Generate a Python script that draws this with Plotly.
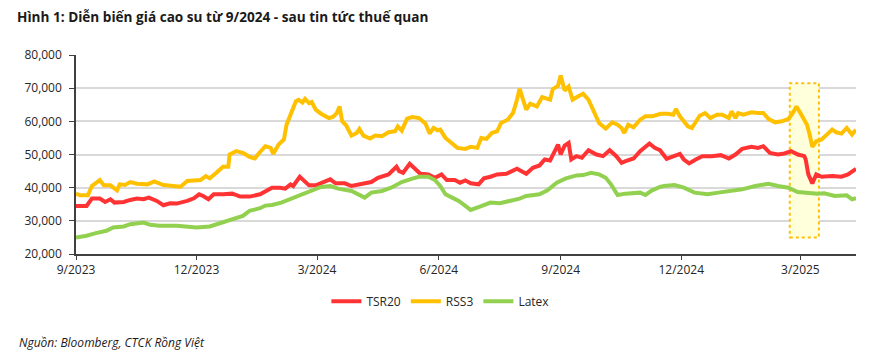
import plotly.graph_objects as go

title_text = "Hình 1: Diễn biến giá cao su từ 9/2024 - sau tin tức thuế quan"
source_text = "Nguồn: Bloomberg, CTCK Rồng Việt"

rss3_dates = ["2023-09-01","2023-09-04","2023-09-10","2023-09-13","2023-09-19","2023-09-22","2023-09-27","2023-10-02","2023-10-04","2023-10-08","2023-10-12","2023-10-17","2023-10-25","2023-10-30","2023-11-06","2023-11-14","2023-11-19","2023-11-24","2023-12-04","2023-12-08","2023-12-11","2023-12-16","2023-12-21","2023-12-25","2023-12-26","2023-12-31","2024-01-05","2024-01-10","2024-01-14","2024-01-17","2024-01-22","2024-01-26","2024-01-28","2024-02-01","2024-02-05","2024-02-07","2024-02-10","2024-02-14","2024-02-16","2024-02-19","2024-02-21","2024-02-24","2024-02-26","2024-02-29","2024-03-04","2024-03-10","2024-03-13","2024-03-16","2024-03-18","2024-03-20","2024-03-23","2024-03-27","2024-03-31","2024-04-02","2024-04-05","2024-04-10","2024-04-14","2024-04-19","2024-04-24","2024-04-29","2024-05-01","2024-05-04","2024-05-08","2024-05-12","2024-05-17","2024-05-22","2024-05-25","2024-05-28","2024-05-31","2024-06-02","2024-06-06","2024-06-10","2024-06-15","2024-06-21","2024-06-25","2024-06-30","2024-07-03","2024-07-07","2024-07-11","2024-07-15","2024-07-18","2024-07-23","2024-07-27","2024-07-30","2024-08-01","2024-08-04","2024-08-06","2024-08-09","2024-08-14","2024-08-18","2024-08-24","2024-08-26","2024-08-30","2024-09-01","2024-09-04","2024-09-07","2024-09-10","2024-09-14","2024-09-18","2024-09-22","2024-09-26","2024-09-30","2024-10-05","2024-10-10","2024-10-14","2024-10-17","2024-10-19","2024-10-22","2024-10-26","2024-10-31","2024-11-04","2024-11-09","2024-11-15","2024-11-16","2024-11-21","2024-11-25","2024-11-27","2024-11-30","2024-12-03","2024-12-06","2024-12-09","2024-12-11","2024-12-15","2024-12-19","2024-12-23","2024-12-28","2025-01-01","2025-01-06","2025-01-08","2025-01-11","2025-01-13","2025-01-17","2025-01-23","2025-01-28","2025-02-01","2025-02-05","2025-02-10","2025-02-15","2025-02-20","2025-02-24","2025-02-26","2025-03-01","2025-03-06","2025-03-08","2025-03-10","2025-03-13","2025-03-17","2025-03-21","2025-03-25","2025-03-28","2025-04-01","2025-04-05","2025-04-09","2025-04-12"]
rss3_values = [38200,37700,37700,40500,42300,40700,40700,39200,41000,40800,41700,41200,41000,41900,40800,40500,40300,42000,42300,43500,42800,44500,46300,46300,50000,51000,50500,49300,48800,50300,52500,52000,50200,53000,54500,59000,62300,66000,66500,65700,66800,65500,65800,63500,62300,61000,61300,62500,64500,60000,58800,55700,56500,57700,55700,54800,55700,55500,56700,57000,58500,57200,60800,61300,61000,59300,56300,58000,57300,57500,55000,53500,52000,51700,52300,52000,55000,54700,56500,57000,59500,60500,62500,66500,69800,66000,63500,65300,64500,67300,66500,69700,70700,73800,69300,70500,66500,67500,68300,66500,62700,59500,57800,59700,59000,58000,56500,59000,58200,60500,61500,61500,62200,62300,62300,62000,63700,61500,60000,58500,58000,59300,61700,62500,61000,62000,62000,61000,63000,61000,62500,62000,62700,62500,62500,60700,59700,60000,60700,63000,64500,62500,59000,56000,52300,54000,54500,56000,57500,56700,56300,58000,56000,57500]

tsr20_dates = ["2023-09-01","2023-09-09","2023-09-13","2023-09-19","2023-09-23","2023-09-27","2023-09-30","2023-10-07","2023-10-12","2023-10-17","2023-10-22","2023-10-26","2023-11-01","2023-11-06","2023-11-11","2023-11-16","2023-11-24","2023-11-29","2023-12-03","2023-12-06","2023-12-10","2023-12-14","2023-12-21","2023-12-28","2024-01-03","2024-01-10","2024-01-18","2024-01-22","2024-01-27","2024-02-02","2024-02-06","2024-02-10","2024-02-12","2024-02-17","2024-02-21","2024-02-24","2024-02-29","2024-03-04","2024-03-11","2024-03-15","2024-03-22","2024-03-27","2024-04-03","2024-04-11","2024-04-16","2024-04-24","2024-04-30","2024-05-02","2024-05-05","2024-05-10","2024-05-14","2024-05-18","2024-05-24","2024-05-29","2024-06-03","2024-06-07","2024-06-13","2024-06-17","2024-06-21","2024-06-25","2024-07-01","2024-07-05","2024-07-10","2024-07-15","2024-07-22","2024-07-30","2024-08-06","2024-08-11","2024-08-16","2024-08-20","2024-08-24","2024-08-28","2024-08-30","2024-09-01","2024-09-04","2024-09-07","2024-09-09","2024-09-13","2024-09-17","2024-09-22","2024-09-28","2024-10-03","2024-10-08","2024-10-13","2024-10-17","2024-10-20","2024-10-26","2024-10-31","2024-11-03","2024-11-07","2024-11-11","2024-11-15","2024-11-20","2024-11-25","2024-11-30","2024-12-03","2024-12-07","2024-12-12","2024-12-17","2024-12-24","2024-12-31","2025-01-06","2025-01-11","2025-01-16","2025-01-23","2025-01-28","2025-02-01","2025-02-06","2025-02-12","2025-02-17","2025-02-22","2025-02-27","2025-03-04","2025-03-05","2025-03-07","2025-03-10","2025-03-13","2025-03-17","2025-03-25","2025-04-01","2025-04-06","2025-04-12"]
tsr20_values = [34500,34500,36700,36700,35700,36500,35500,35700,36300,36700,36500,37000,36000,34700,35300,35200,36000,36800,38000,37500,36500,38000,38000,38200,37300,37300,38000,38800,40000,40000,39700,41000,40500,43300,42000,40700,40700,41300,42500,41300,41300,40500,41000,41700,43000,44000,46300,45000,44500,47200,45700,44200,44000,43000,44000,42300,42300,41500,42200,41300,41000,42800,43300,44000,44200,45700,44200,46000,46700,48500,48200,51000,53000,50000,52700,53500,48500,49500,49000,51300,50000,49500,51300,49500,47500,48000,48800,51000,52000,53300,52000,51300,48700,49500,50200,48500,47300,48500,49500,49500,49800,48800,50000,51700,52300,52000,52500,50500,50000,50300,51000,50000,49500,48500,44000,41300,44000,43300,43500,43300,44000,45700]

latex_dates = ["2023-09-01","2023-09-09","2023-09-16","2023-09-24","2023-09-29","2023-10-07","2023-10-12","2023-10-22","2023-10-27","2023-11-03","2023-11-16","2023-11-24","2023-12-01","2023-12-11","2023-12-18","2023-12-26","2024-01-05","2024-01-10","2024-01-18","2024-01-22","2024-01-27","2024-02-03","2024-02-11","2024-02-19","2024-02-26","2024-03-04","2024-03-11","2024-03-17","2024-03-27","2024-04-01","2024-04-06","2024-04-11","2024-04-19","2024-04-26","2024-05-04","2024-05-12","2024-05-17","2024-05-24","2024-05-29","2024-06-02","2024-06-06","2024-06-11","2024-06-16","2024-06-21","2024-06-25","2024-07-02","2024-07-10","2024-07-17","2024-07-25","2024-08-01","2024-08-06","2024-08-16","2024-08-22","2024-08-29","2024-09-05","2024-09-13","2024-09-18","2024-09-24","2024-09-30","2024-10-05","2024-10-09","2024-10-14","2024-10-20","2024-10-31","2024-11-04","2024-11-09","2024-11-15","2024-11-18","2024-11-26","2024-12-03","2024-12-11","2024-12-21","2024-12-29","2025-01-06","2025-01-16","2025-01-26","2025-02-05","2025-02-12","2025-02-20","2025-02-27","2025-03-09","2025-03-14","2025-03-19","2025-03-27","2025-04-05","2025-04-09","2025-04-12"]
latex_values = [25000,25500,26300,27000,28000,28300,29000,29500,28800,28500,28500,28100,28000,28300,29200,30000,31500,33000,33800,34600,34800,35500,36700,38000,39200,40200,40500,39700,39000,38000,37000,38500,39000,40000,41700,42700,43300,43300,42300,40500,38000,37000,36000,34500,33300,34300,35500,35300,36000,36700,37500,38000,39200,41500,42800,43700,43800,44500,44000,43000,41000,37800,38200,38500,37800,39200,40200,40500,40800,40000,38500,38000,38500,39000,39500,40500,41200,40500,40000,38700,38200,38200,38300,37500,37700,36500,36800]

series_names = ["TSR20", "RSS3", "Latex"]
series_colors = ["#FF3333", "#FFC000", "#92D050"]

highlight_dates = ["2025-02-21", "2025-03-15"]
highlight_values = [25000, 71500]

y_ticks = [20000, 30000, 40000, 50000, 60000, 70000, 80000]
x_range = ["2023-09-01", "2025-04-12"]

font_family = "Open Sans, Noto Sans, sans-serif"

# the page body adds an 8px offset; the figure fills the rest of the 873x357 window
W, H = 865, 349

fig = go.Figure()
for name, color, xs, ys in [
    (series_names[0], series_colors[0], tsr20_dates, tsr20_values),
    (series_names[1], series_colors[1], rss3_dates, rss3_values),
    (series_names[2], series_colors[2], latex_dates, latex_values),
]:
    fig.add_trace(go.Scatter(x=xs, y=ys, name=name, mode="lines",
                             line=dict(color=color, width=4)))

fig.add_shape(type="rect", xref="x", yref="y",
              x0=highlight_dates[0], x1=highlight_dates[1],
              y0=highlight_values[0], y1=highlight_values[1],
              fillcolor="#FFFFDC", line=dict(color="#FFC000", width=2, dash="dot"),
              layer="between")

fig.update_layout(
    width=W, height=H,
    margin=dict(l=68, r=17, t=47, b=102.5),
    paper_bgcolor="white", plot_bgcolor="white",
    font=dict(family=font_family, size=12, color="#262626"),
    title=dict(text="<b>" + title_text + "</b>", xref="container", yref="container",
               x=9/W, xanchor="left", y=1-9/H, yanchor="middle",
               font=dict(size=13.6, color="#1a1a1a", family=font_family)),
    showlegend=True,
    legend=dict(orientation="h", x=0.321, xanchor="left", y=-0.165, yanchor="top",
                font=dict(size=12, color="#262626"), bgcolor="rgba(0,0,0,0)",
                itemwidth=30, tracegroupgap=0),
    annotations=[dict(text="<i>" + source_text + "</i>", xref="paper", yref="paper",
                      x=-59/780, xanchor="left", y=-88.5/199.5, yanchor="middle",
                      showarrow=False, font=dict(size=12, color="#1a1a1a"))],
)
fig.update_xaxes(type="date", range=x_range, dtick="M3", tick0="2023-09-01",
                 tickformat="%-m/%Y", showgrid=False, showline=True,
                 linecolor="#404040", linewidth=1.5, ticks="outside", ticklen=4,
                 tickcolor="#404040", tickfont=dict(size=12, color="#262626"))
fig.update_yaxes(range=[20000, 80000], tickvals=y_ticks, tickformat=",",
                 showgrid=True, gridcolor="#D9D9D9", gridwidth=1.5,
                 showline=True, linecolor="#404040", linewidth=1.5,
                 ticks="outside", ticklen=5, tickcolor="#404040", ticklabelstandoff=5,
                 tickfont=dict(size=12, color="#262626"), zeroline=False)

fig.write_html("out.html")
